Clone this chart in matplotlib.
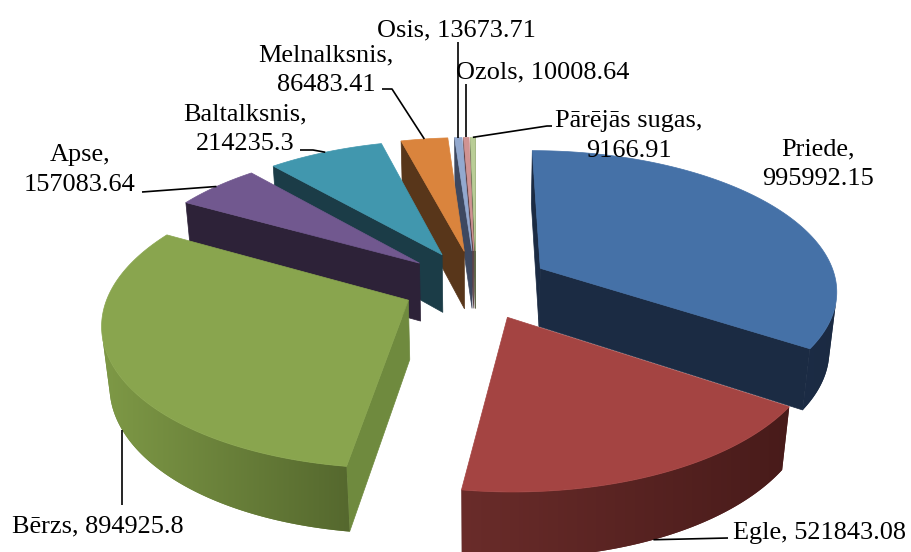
import numpy as np
import matplotlib
matplotlib.use('Agg')
import matplotlib.pyplot as plt
from matplotlib.patches import Polygon
from matplotlib.colors import to_rgb

species = ['Priede', 'Egle', 'Bērzs', 'Apse', 'Baltalksnis',
           'Melnalksnis', 'Osis', 'Ozols', 'Pārējās sugas']
volume = [995992.15, 521843.08, 894925.8, 157083.64, 214235.3,
          86483.41, 13673.71, 10008.64, 9166.91]

# face colours: top, radial wall, outer wall (left -> right gradient)
top_col = ['#4571A7', '#A44442', '#89A54E', '#71588F', '#4197AE',
           '#DA843D', '#93A9CF', '#D09392', '#B9CD96']
side_col = ['#1B2B43', '#4A1C1B', '#6F8A3E', '#2D2238', '#1B3C47',
            '#58361A', '#3D4860', '#5E4146', '#5F6A4B']
rim_col = [('#1C2C45', '#1B2A42'), ('#6A2C2A', '#481B1A'), ('#7E9946', '#55682E'),
           ('#2D2238', '#2D2238'), ('#1B3C47', '#1B3C47'), ('#58361A', '#58361A'),
           ('#3D4860', '#3D4860'), ('#5E4146', '#5E4146'), ('#5F6A4B', '#5F6A4B')]

# projection of the tilted 3D pie into pixel space
CX, CY = 476, 284.5
SX, KY, KZ = 297, 139, 60
DIST, COS_T, DZ = 6.0, 0.866, 0.125
EXPLODE = 0.25

# label layout: x, first baseline, alignment; leaders: anchor side + elbow points
lab_pos = {
    'Priede': (818, 155, 'center'),
    'Egle': (733, 539, 'left'),
    'Bērzs': (12, 532, 'left'),
    'Apse': (80, 161, 'center'),
    'Baltalksnis': (245, 120, 'center'),
    'Melnalksnis': (326, 61, 'center'),
    'Osis': (377, 36, 'left'),
    'Ozols': (456, 78, 'left'),
    'Pārējās sugas': (629, 127, 'center'),
}
one_line = {'Egle', 'Bērzs', 'Osis', 'Ozols'}
leaders = {
    'Egle': ('bottom', [(728, 538)]),
    'Bērzs': ('bottom', [(None, 505)]),
    'Apse': ('top', [(142, 192)]),
    'Baltalksnis': ('top', [(300, 150), (313, 150)]),
    'Melnalksnis': ('top', [(382, 89), (392, 89)]),
    'Osis': ('top', [(None, 42)]),
    'Ozols': ('top', [(None, 84)]),
    'Pārējās sugas': ('top', [(552, 126), (547, 126)]),
}


def proj(X, Y, bottom=False):
    d = -np.asarray(Y) * COS_T - (DZ if bottom else 0.0)
    s = DIST / (DIST - d)
    px = CX + SX * np.asarray(X) * s
    py = CY - (KY * np.asarray(Y) - (KZ if bottom else 0.0)) * s
    return px, py


def facing(X, Y, nx, ny):
    return -X * nx + (-DIST * COS_T - Y) * ny > 0


fig = plt.figure(figsize=(9.12, 5.52), dpi=100)
ax = fig.add_axes([0, 0, 1, 1])
ax.axis('off')

frac = np.array(volume) / sum(volume)
hi = np.pi / 2 - 2 * np.pi * np.concatenate([[0], np.cumsum(frac)[:-1]])
lo = hi - 2 * np.pi * frac
mid = (hi + lo) / 2

z = 1
for i in np.argsort(-np.sin(mid)):
    ox, oy = EXPLODE * np.cos(mid[i]), EXPLODE * np.sin(mid[i])
    n = max(6, int(np.degrees(hi[i] - lo[i]) * 3))
    th = np.linspace(lo[i], hi[i], n)
    X, Y = ox + np.cos(th), oy + np.sin(th)
    tx, ty = proj(X, Y)
    bx, by = proj(X, Y, True)
    ax0, ay0 = proj(ox, oy)
    bx0, by0 = proj(ox, oy, True)

    # radial walls
    for a, nx, ny, j in [(lo[i], np.sin(lo[i]), -np.cos(lo[i]), 0),
                         (hi[i], -np.sin(hi[i]), np.cos(hi[i]), -1)]:
        if facing(ox + 0.5 * np.cos(a), oy + 0.5 * np.sin(a), nx, ny):
            poly = [(ax0, ay0), (tx[j], ty[j]), (bx[j], by[j]), (bx0, by0)]
            ax.add_patch(Polygon(poly, closed=True, fc=side_col[i], ec=side_col[i],
                                 lw=0.5, zorder=z))
            z += 1

    # outer curved wall, only the part facing the viewer
    vis = facing(X, Y, np.cos(th), np.sin(th))
    idx = np.flatnonzero(vis)
    if len(idx) > 1:
        for run in np.split(idx, np.flatnonzero(np.diff(idx) > 1) + 1):
            if len(run) < 2:
                continue
            pts = list(zip(tx[run], ty[run])) + list(zip(bx[run][::-1], by[run][::-1]))
            c0, c1 = np.array(to_rgb(rim_col[i][0])), np.array(to_rgb(rim_col[i][1]))
            patch = Polygon(pts, closed=True, fc=(c0 + c1) / 2, ec='none', zorder=z)
            ax.add_patch(patch)
            xs = [p[0] for p in pts]; ys = [p[1] for p in pts]
            g = np.linspace(0, 1, 256)[None, :, None]
            img = (1 - g) * c0 + g * c1
            im = ax.imshow(img, extent=(min(xs), max(xs), max(ys), min(ys)),
                           aspect='auto', interpolation='bilinear', zorder=z + 0.5)
            im.set_clip_path(patch)
            z += 1

    # top face
    poly = [(ax0, ay0)] + list(zip(tx, ty))
    ax.add_patch(Polygon(poly, closed=True, fc=top_col[i], ec=top_col[i],
                         lw=0.5, zorder=z))
    z += 1

# labels and leader lines
font = dict(family=['Liberation Serif', 'DejaVu Serif'], size=18.9, color='black')
for i, name in enumerate(species):
    x, y, ha = lab_pos[name]
    sep = ', ' if name in one_line else ','
    lines = [f'{name}{sep}{volume[i]}'] if name in one_line else [f'{name},', f'{volume[i]}']
    for k, line in enumerate(lines):
        ax.text(x, y + k * 30, line, ha=ha, va='baseline', zorder=500, **font)
    if name in leaders:
        side, elbows = leaders[name]
        ox, oy = EXPLODE * np.cos(mid[i]), EXPLODE * np.sin(mid[i])
        axp, ayp = proj(ox + np.cos(mid[i]), oy + np.sin(mid[i]), side == 'bottom')
        pts = [(axp if ex is None else ex, ey) for ex, ey in elbows] + [(axp, ayp)]
        ax.plot([p[0] for p in pts], [p[1] for p in pts], color='black', lw=1.2,
                zorder=499, solid_capstyle='butt')

ax.set_xlim(0, 912)
ax.set_ylim(552, 0)
fig.savefig('out.png', dpi=100, facecolor='white')
